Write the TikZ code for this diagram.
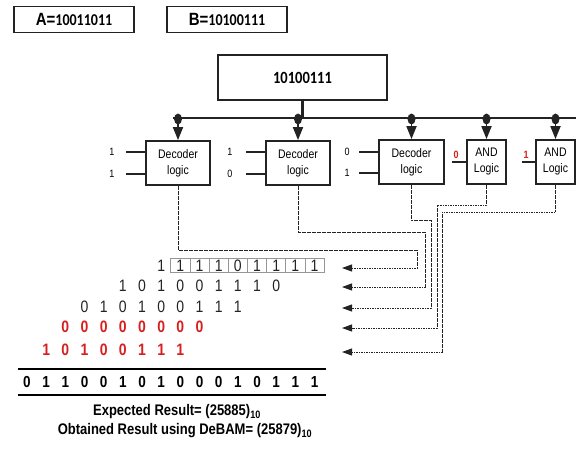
\documentclass[tikz,border=0pt]{standalone}
\usepackage{fontspec}
\usepackage{graphicx}
\setmainfont{Liberation Sans}
\newfontfamily\numfont{Carlito}
\usetikzlibrary{arrows.meta}
\definecolor{bitred}{RGB}{214,32,32}
\definecolor{inkgray}{RGB}{35,35,35}
\definecolor{cellgray}{RGB}{150,150,150}
% text in this figure is set slightly taller than wide
\newcommand\tl[1]{\scalebox{1}[1.18]{#1}}

\begin{document}
\begin{tikzpicture}[x=1pt,y=-1pt,
  every node/.style={inner sep=0pt},
  regbox/.style={draw=inkgray, line width=1.5pt, minimum width=120pt, minimum height=26pt},
  topbox/.style={draw=inkgray, line width=1.6pt, minimum width=169pt, minimum height=45pt},
  logicbox/.style={draw=inkgray, line width=1.8pt, minimum height=44pt, align=center,
    font=\fontsize{10.5}{16}\selectfont},
  bus/.style={line width=2.4pt, draw=inkgray},
  feed/.style={line width=1.8pt, draw=inkgray, -{Triangle[width=10pt,length=13pt]}},
  stub/.style={line width=1.8pt, draw=inkgray},
  inlab/.style={font=\fontsize{9}{10}\selectfont},
  redlab/.style={font=\fontsize{9}{10}\selectfont\bfseries, text=bitred},
  route/.style={draw=inkgray, line width=0.9pt, dash pattern=on 1.6pt off 0.9pt,
    -{Triangle[width=7pt,length=10pt]}},
  dig/.style={font=\fontsize{14}{16}\selectfont, text=inkgray},
  reddig/.style={font=\fontsize{14}{16}\selectfont\bfseries, text=bitred},
  sumdig/.style={font=\fontsize{13.5}{16}\selectfont\bfseries, text=black},
  cell/.style={draw=cellgray, line width=0.6pt, minimum width=19.17pt, minimum height=14pt},
  rule/.style={line width=2pt, draw=black},
  note/.style={font=\fontsize{13}{14}\selectfont\bfseries}
]
\useasboundingbox (0,0) rectangle (576,451);

% operand registers
\node[regbox] (regA) at (74,19.5)
  {\tl{\fontsize{15}{16}\selectfont\bfseries A=}\tl{\numfont\fontsize{14}{16}\selectfont\bfseries 10011011}};
\node[regbox] (regB) at (227,19.5)
  {\tl{\fontsize{15}{16}\selectfont\bfseries B=}\tl{\numfont\fontsize{14}{16}\selectfont\bfseries 10100111}};

% multiplier register and its bus
\node[topbox] (mreg) at (302.5,77.5)
  {\tl{\numfont\fontsize{14.5}{16}\selectfont\bfseries 10100111}};
\coordinate (busL) at (173,118);
\coordinate (busR) at (576,118);
\draw[bus] (busL) -- (busR);
\draw[bus] (mreg.south) -- (mreg.south |- busL);

% partial product generators
\node[logicbox, minimum width=64pt] (d1) at (178,163) {\tl{Decoder}\\\tl{logic}};
\node[logicbox, minimum width=64pt] (d2) at (298,163) {\tl{Decoder}\\\tl{logic}};
\node[logicbox, minimum width=65pt] (d3) at (411.5,162) {\tl{Decoder}\\\tl{logic}};
\node[logicbox, minimum width=39pt] (a1) at (486.5,162) {\tl{AND}\\\tl{Logic}};
\node[logicbox, minimum width=39pt] (a2) at (555.5,162) {\tl{AND}\\\tl{Logic}};

% taps from the bus
\foreach \b in {d1,d2,d3,a1,a2} {
  \coordinate (tap\b) at ([yshift=-1pt]\b.north |- busL);
  \draw[feed] (tap\b) -- (\b.north);
  \fill[inkgray] (tap\b) ellipse [x radius=4, y radius=5.5];
}

% decoder inputs
\node[inlab] (i11) at (112,152) {\tl{1}};
\node[inlab] (i12) at (112,174) {\tl{1}};
\node[inlab] (i21) at (230,152) {\tl{1}};
\node[inlab] (i22) at (230,174) {\tl{0}};
\node[inlab] (i31) at (347,152) {\tl{0}};
\node[inlab] (i32) at (347,173) {\tl{1}};
\draw[stub] (d1.west |- i11) -- ++(-19,0);
\draw[stub] (d1.west |- i12) -- ++(-19,0);
\draw[stub] (d2.west |- i21) -- ++(-19,0);
\draw[stub] (d2.west |- i22) -- ++(-19,0);
\draw[stub] (d3.west |- i31) -- ++(-19,0);
\draw[stub] (d3.west |- i32) -- ++(-19,0);
\node[redlab] (i41) at (456,155) {\tl{0}};
\node[redlab] (i51) at (526,155) {\tl{1}};
\draw[stub] (a1.west) -- ++(-14,0);
\draw[stub] (a2.west) -- ++(-13,0);

% partial product rows
\node[dig] (p1l) at ({27+19.17*7},265.5) {\tl{1}};
\foreach \d [count=\k from 8] in {1,1,1,0,1,1,1,1}
  \node[cell, dig] (p1c\k) at ({27+19.17*\k},265.5) {\tl{\d}};
\foreach \d [count=\k from 5] in {1,0,1,0,0,1,1,1,0}
  \node[dig] (p2c\k) at ({27+19.17*\k},285.5) {\tl{\d}};
\foreach \d [count=\k from 3] in {0,1,0,1,0,0,1,1,1}
  \node[dig] (p3c\k) at ({27+19.17*\k},306.5) {\tl{\d}};
\foreach \d [count=\k from 2] in {0,0,0,0,0,0,0,0}
  \node[reddig] (p4c\k) at ({27+19.17*\k},326.5) {\tl{\d}};
\foreach \d [count=\k from 1] in {1,0,1,0,0,1,1,1}
  \node[reddig] (p5c\k) at ({27+19.17*\k},350) {\tl{\d}};

% row entry points
\coordinate (t1) at (342,268);
\coordinate (t2) at (342,287);
\coordinate (t3) at (342,308);
\coordinate (t4) at (342,328);
\coordinate (t5) at (342,352);
\draw[route] (d1.south) |- (417,250) |- (t1);
\draw[route] (d2.south) |- (425,232) |- (t2);
\draw[route] (d3.south) |- (431,220) |- (t3);
\draw[route] (a1.south) |- (437,205) |- (t4);
\draw[route] (a2.south) |- (442,212) |- (t5);

% final sum
\coordinate (ruleAL) at (18,369);
\coordinate (ruleAR) at (326,369);
\coordinate (ruleBL) at (18,395);
\coordinate (ruleBR) at (326,395);
\draw[rule] (ruleAL) -- (ruleAR);
\draw[rule] (ruleBL) -- (ruleBR);
\foreach \d [count=\k from 0] in {0,1,1,0,0,1,0,1,0,0,0,1,0,1,1,1}
  \node[sumdig] (s\k) at ({27+19.17*\k},382.5) {\tl{\d}};

\node[note] (expected) at (177,412) {\tl{Expected Result= (25885)\textsubscript{10}}};
\node[note] (obtained) at (185,431) {\tl{Obtained Result using DeBAM= (25879)\textsubscript{10}}};
\end{tikzpicture}
\end{document}
